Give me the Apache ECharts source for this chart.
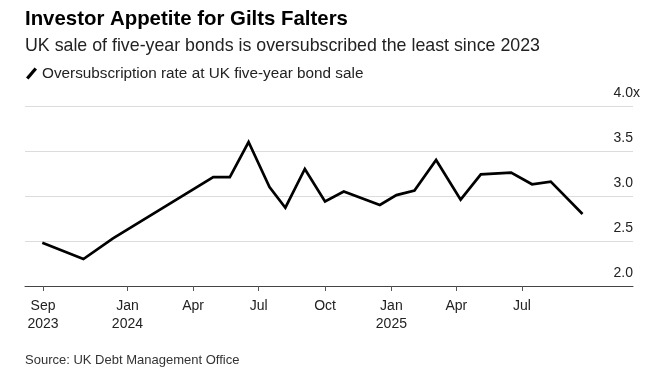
<!DOCTYPE html>
<html>
<head>
<meta charset="utf-8">
<script src="https://cdn.jsdelivr.net/npm/echarts@6/dist/echarts.min.js"></script>
<style>
html,body{margin:0;padding:0;background:#fff;}
#chart{width:665px;height:381px;}
</style>
</head>
<body>
<div id="chart"></div>
<script>
const dates = ['2023-09-05','2023-11-01','2023-12-12','2024-04-29','2024-05-22','2024-06-17','2024-07-16','2024-08-07','2024-09-03','2024-10-01','2024-10-27','2024-12-16','2025-01-08','2025-02-02','2025-03-04','2025-04-07','2025-05-05','2025-06-16','2025-07-15','2025-08-10','2025-09-23'];
const values = [2.48,2.30,2.53,3.21,3.21,3.60,3.10,2.87,3.30,2.94,3.05,2.90,3.01,3.06,3.40,2.96,3.24,3.26,3.13,3.16,2.80];
const tickDates = ['2023-09-06','2024-01-01','2024-04-01','2024-07-01','2024-10-01','2025-01-01','2025-04-01','2025-07-01'];
const tickLabels = ['Sep\n2023','Jan\n2024','Apr','Jul','Oct','Jan\n2025','Apr','Jul'];
const yTicks = [2.0,2.5,3.0,3.5,4.0];

function ts(s){const p=s.split('-');return Date.UTC(+p[0],+p[1]-1,+p[2]);}
const tickTs = tickDates.map(ts);
const labelMap = {};
tickTs.forEach((t,i)=>{labelMap[t]=tickLabels[i];});

const chart = echarts.init(document.getElementById('chart'));
chart.setOption({
  animation:false,
  backgroundColor:'#fff',
  title:[
    {text:'Investor Appetite for Gilts Falters',left:25,top:9,padding:0,
     textStyle:{fontFamily:'Liberation Sans, Arial, sans-serif',fontSize:20.4,fontWeight:'bold',color:'#000'}},
    {text:'UK sale of five-year bonds is oversubscribed the least since 2023',left:25,top:37,padding:0,
     textStyle:{fontFamily:'Liberation Sans, Arial, sans-serif',fontSize:17.8,fontWeight:'normal',color:'#222'}},
    {text:'Source: UK Debt Management Office',left:25,top:354,padding:0,
     textStyle:{fontFamily:'Liberation Sans, Arial, sans-serif',fontSize:13,fontWeight:'normal',color:'#333'}}
  ],
  legend:{
    left:26,top:66,padding:0,itemWidth:11,itemHeight:12,itemGap:5,
    icon:'path://M0,10 L8.5,0 L11,2 L2.5,12 Z',
    textStyle:{fontFamily:'Liberation Sans, Arial, sans-serif',fontSize:15.3,color:'#222'},
    data:[{name:'Oversubscription rate at UK five-year bond sale',itemStyle:{color:'#000'}}]
  },
  grid:{left:25,right:32,top:106,bottom:95,containLabel:false},
  xAxis:{
    type:'value',min:ts('2023-08-12'),max:ts('2025-12-02'),
    axisLine:{show:true,lineStyle:{color:'#444',width:1}},
    axisTick:{show:true,length:5,lineStyle:{color:'#555',width:1},customValues:tickTs},
    axisLabel:{customValues:tickTs,margin:11,lineHeight:18,
      fontFamily:'Liberation Sans, Arial, sans-serif',fontSize:14,color:'#222',
      formatter:function(v){return labelMap[v]||'';}},
    splitLine:{show:false}
  },
  yAxis:{
    type:'value',position:'right',min:2,max:4,interval:0.5,
    axisLine:{show:false},axisTick:{show:false},
    splitLine:{show:true,lineStyle:{color:'#dcdcdc',width:1}},
    axisLabel:{inside:true,margin:-7,verticalAlign:'bottom',padding:[0,0,6,0],lineHeight:14,
      fontFamily:'Liberation Sans, Arial, sans-serif',fontSize:14,color:'#222',
      formatter:function(v){return '{n|'+v.toFixed(1)+'}'+(v===4?'{x|x}':'{h|x}');},
      rich:{n:{fontFamily:'Liberation Sans, Arial, sans-serif',fontSize:14,color:'#222',lineHeight:14},
            x:{fontFamily:'Liberation Sans, Arial, sans-serif',fontSize:14,color:'#222',lineHeight:14},
            h:{fontFamily:'Liberation Sans, Arial, sans-serif',fontSize:14,color:'rgba(0,0,0,0)',lineHeight:14}}
    }
  },
  series:[{
    name:'Oversubscription rate at UK five-year bond sale',
    type:'line',
    data:dates.map((d,i)=>[ts(d),values[i]]),
    showSymbol:false,symbol:'none',
    lineStyle:{color:'#000',width:2.7,join:'miter'},
    itemStyle:{color:'#000'}
  }]
});
</script>
</body>
</html>
